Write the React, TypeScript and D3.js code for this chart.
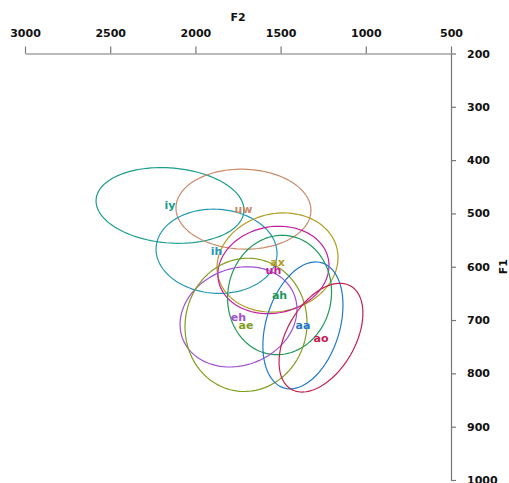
import React, { useEffect, useRef } from "react";
import * as d3 from "d3";

const vowels = ["iy", "uw", "ih", "ax", "uh", "ah", "eh", "ae", "aa", "ao"];
const f2Mean = [2149, 1718, 1876, 1518, 1542, 1506, 1747, 1703, 1369, 1263];
const f1Mean = [485, 492, 571, 592, 606, 653, 694, 709, 710, 733];
const f2Sd = [434, 396, 355, 355, 326, 305, 343, 358, 235, 246];
const f1Sd = [71, 75, 79, 93, 82, 112, 94, 125, 119, 102];
const rho = [-0.12, -0.03, -0.05, 0.1, 0.1, 0.05, 0.15, 0.03, 0.32, 0.45];
const colors = ["#1a9c8c", "#c98b6b", "#2598b5", "#b09d22", "#c41ea0", "#1f9a5a", "#a050d0", "#7f9e1e", "#1f78d0", "#c4204e"];

const f2Ticks = [3000, 2500, 2000, 1500, 1000, 500];
const f1Ticks = [200, 300, 400, 500, 600, 700, 800, 900, 1000];

const W = 509;
const H = 483;
const FONT = "'DejaVu Sans', 'Liberation Sans', sans-serif";
const FS = 11;

export default function App() {
  const xRef = useRef<SVGGElement>(null);
  const yRef = useRef<SVGGElement>(null);

  const x = d3.scaleLinear().domain([3000, 500]).range([25, 451]);
  const y = d3.scaleLinear().domain([200, 1000]).range([53.5, 480]);

  useEffect(() => {
    const gx = d3.select(xRef.current!);
    gx.selectAll("*").remove();
    gx.call(d3.axisTop(x).tickValues(f2Ticks).tickFormat(d3.format("d")).tickSize(7).tickSizeOuter(0).tickPadding(10));
    gx.selectAll("path, line").attr("stroke", "#777").attr("stroke-width", 1.2);
    gx.selectAll("text").attr("font-family", FONT).attr("font-weight", "bold").attr("font-size", FS).attr("fill", "#111");

    const gy = d3.select(yRef.current!);
    gy.selectAll("*").remove();
    gy.call(d3.axisRight(y).tickValues(f1Ticks).tickFormat(d3.format("d")).tickSize(5).tickSizeOuter(0).tickPadding(11));
    gy.selectAll("path, line").attr("stroke", "#777").attr("stroke-width", 1.2);
    gy.selectAll("text").attr("font-family", FONT).attr("font-weight", "bold").attr("font-size", FS).attr("fill", "#111");
  }, []);

  const line = d3
    .line<[number, number]>()
    .x((d) => x(d[0]))
    .y((d) => y(d[1]))
    .curve(d3.curveLinearClosed);

  const ellipse = (i: number) => {
    const pts: [number, number][] = [];
    const n = 120;
    const r = rho[i];
    const q = Math.sqrt(1 - r * r);
    for (let k = 0; k < n; k++) {
      const t = (2 * Math.PI * k) / n;
      const c = Math.cos(t);
      const s = Math.sin(t);
      pts.push([f2Mean[i] + f2Sd[i] * c, f1Mean[i] + f1Sd[i] * (r * c + q * s)]);
    }
    return line(pts) || "";
  };

  return (
    <svg width={W} height={H} style={{ position: "absolute", left: 0, top: 0, background: "#fff" }}>
      <g ref={xRef} transform={`translate(0,${y(200)})`} />
      <g ref={yRef} transform={`translate(${x(500)},0)`} />
      <text x={(x(3000) + x(500)) / 2} y={21} textAnchor="middle" fontFamily={FONT} fontWeight="bold" fontSize={FS} fill="#111">
        F2
      </text>
      <text transform={`translate(507,${(y(200) + y(1000)) / 2}) rotate(-90)`} textAnchor="middle" fontFamily={FONT} fontWeight="bold" fontSize={FS} fill="#111">
        F1
      </text>
      {vowels.map((v, i) => (
        <path key={"e" + v} d={ellipse(i)} fill="none" stroke={colors[i]} strokeWidth={1.2} />
      ))}
      {vowels.map((v, i) => (
        <text
          key={"t" + v}
          x={x(f2Mean[i])}
          y={y(f1Mean[i])}
          dy="0.35em"
          textAnchor="middle"
          fontFamily={FONT}
          fontWeight="bold"
          fontSize={FS}
          fill={colors[i]}
        >
          {v}
        </text>
      ))}
    </svg>
  );
}
